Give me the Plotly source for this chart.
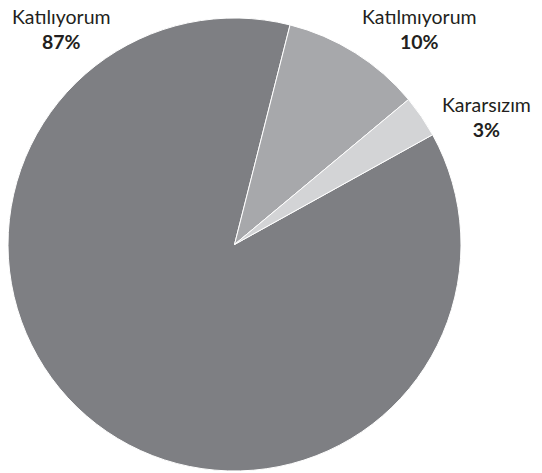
import plotly.graph_objects as go

labels = ["Katılıyorum", "Katılmıyorum", "Kararsızım"]
values = [87, 10, 3]
colors = ["#7e7f83", "#a7a8ab", "#d3d4d6"]

W, H = 542, 473
OFF = 8  # default page body margin
# label anchor pixel positions on screen (centre of two-line block)
label_px = [(61, 29), (419, 29), (486, 117)]

fig = go.Figure(go.Pie(
    labels=labels,
    values=values,
    sort=False,
    direction="clockwise",
    rotation=61,
    marker=dict(colors=colors, line=dict(color="white", width=1)),
    textinfo="none",
    showlegend=False,
    domain=dict(x=[0, 453 / W], y=[9 / H, 464 / H]),
))

annotations = []
for lab, val, (px, py) in zip(labels, values, label_px):
    annotations.append(dict(
        x=(px - OFF) / W, y=1 - (py - OFF) / H, xref="paper", yref="paper",
        text=f"{lab}<br><b>{val}%</b>",
        showarrow=False, xanchor="center", yanchor="middle",
        font=dict(family="Lato", size=19.5, color="#231f20"),
        align="center",
    ))

fig.update_layout(
    width=W, height=H,
    margin=dict(l=0, r=0, t=0, b=0),
    paper_bgcolor="white",
    plot_bgcolor="white",
    annotations=annotations,
)

fig.write_html("out.html")
